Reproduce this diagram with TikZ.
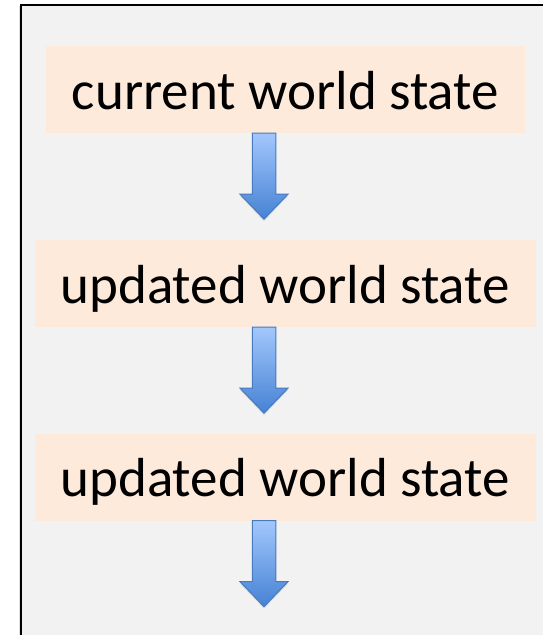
\documentclass[tikz,border=0pt]{standalone}
\usepackage{fontspec}
\setmainfont{Carlito}
\usetikzlibrary{calc,shadows}
\definecolor{panelgray}{RGB}{242,242,242}
\definecolor{peach}{RGB}{253,234,218}
\definecolor{arrowtop}{RGB}{162,199,252}
\definecolor{arrowbot}{RGB}{70,130,212}
\definecolor{arrowedge}{RGB}{72,122,192}
\begin{document}
\begin{tikzpicture}[x=1pt,y=-1pt,
  statebox/.style={fill=peach, inner sep=0pt, text height=63pt, text depth=24pt,
    font=\fontsize{55}{66}\selectfont},
  fatarrow/.style={draw=arrowedge, line width=1pt, line join=miter,
    top color=arrowtop, bottom color=arrowbot,
    drop shadow={opacity=0.18, shadow xshift=0pt, shadow yshift=-2pt}},
  downarrow/.pic={
    \path[fatarrow] (-11.75,0) -- (11.75,0) -- (11.75,61) -- (24,61) -- (0,86)
      -- (-24,61) -- (-11.75,61) -- cycle;}]
  \useasboundingbox (0,0) rectangle (543,635);
  \fill[white] (0,0) rectangle (543,635);
  % grey panel, running off the right and bottom edges
  \begin{scope}
    \clip (0,0) rectangle (543,635);
    \fill[black!12] (18.5,6) rectangle (560,660);
    \draw[line width=2pt, fill=panelgray] (21,5) rectangle (600,700);
  \end{scope}
  % states
  \node[statebox, minimum width=479pt] (b1) at (285.5,89.5) {current world state};
  \node[statebox, minimum width=501.4pt] (b2) at (285.25,283.5) {updated world state};
  \node[statebox, minimum width=501.4pt] (b3) at (285.25,477) {updated world state};
  % transitions
  \coordinate (a1) at ($(b1.south)+(-21.5,0)$);
  \coordinate (a2) at ($(b2.south)+(-21.25,0)$);
  \coordinate (a3) at ($(b3.south)+(-21.25,0)$);
  \pic at (a1) {downarrow};
  \pic at (a2) {downarrow};
  \pic at (a3) {downarrow};
\end{tikzpicture}
\end{document}
